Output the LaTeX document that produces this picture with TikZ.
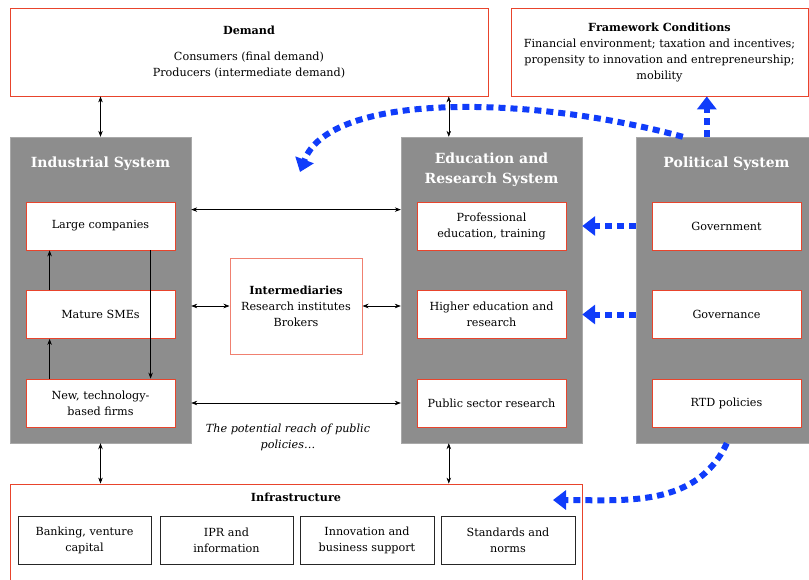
\documentclass[tikz,border=0pt]{standalone}
\usepackage{fontspec}
\setmainfont{DejaVu Serif}
\usetikzlibrary{arrows.meta,calc}
\definecolor{sysgray}{RGB}{141,141,141}
\definecolor{boxred}{RGB}{232,68,44}
\definecolor{boxpink}{RGB}{240,128,112}
\definecolor{polblue}{RGB}{16,60,250}
\tikzset{
  outerbox/.style={draw=boxred, line width=0.8pt, align=center, inner sep=0pt},
  sysbox/.style={fill=sysgray, draw=sysgray!75!white, minimum width=181pt, minimum height=306pt, inner sep=0pt},
  systitle/.style={text=white, font=\fontsize{14}{20}\selectfont\bfseries, align=center},
  itembox/.style={draw=boxred, fill=white, line width=0.8pt, minimum width=149pt, minimum height=48pt, align=center, inner sep=0pt},
  infbox/.style={draw=black!85, line width=0.8pt, minimum height=48pt, align=center, inner sep=0pt},
  link/.style={{Stealth[length=6pt,width=4.5pt]}-{Stealth[length=6pt,width=4.5pt]}, line width=0.6pt},
  upflow/.style={-{Stealth[length=6pt,width=4.5pt]}, line width=0.6pt},
  policy/.style={draw=polblue, line width=6pt, dash pattern=on 7pt off 5pt, -{Triangle[length=13pt,width=19pt]}}
}
\begin{document}
\begin{tikzpicture}[x=1pt, y=-1pt, every node/.style={font=\fontsize{11.2}{16}\selectfont}]
\useasboundingbox (0,0) rectangle (809,579);

% top row
\node[outerbox, minimum width=478pt, minimum height=88pt] (demand) at (249,52)
  {\textbf{Demand}\\[10pt]Consumers (final demand)\\Producers (intermediate demand)};
\node[outerbox, minimum width=297pt, minimum height=88pt] (framework) at (659.5,52)
  {\textbf{Framework Conditions}\\Financial environment; taxation and incentives;\\propensity to innovation and entrepreneurship;\\mobility};

% the three systems
\node[sysbox] (industrial) at (100.5,290) {};
\node[systitle] (industrialtitle) at (100.5,164) {Industrial System};
\node[sysbox] (education) at (491.5,290) {};
\node[systitle] (educationtitle) at (491.5,170) {Education and\\Research System};
\node[sysbox] (political) at (726.5,290) {};
\node[systitle] (politicaltitle) at (726.5,164) {Political System};

\node[itembox] (large) at (100.5,226) {Large companies};
\node[itembox] (mature) at (100.5,314.5) {Mature SMEs};
\node[itembox] (newfirms) at (100.5,403) {New, technology-\\based firms};
\node[itembox] (profedu) at (491.5,226) {Professional\\education, training};
\node[itembox] (highedu) at (491.5,314.5) {Higher education and\\research};
\node[itembox] (pubres) at (491.5,403) {Public sector research};
\node[itembox] (govt) at (726.5,226) {Government};
\node[itembox] (governance) at (726.5,314.5) {Governance};
\node[itembox] (rtd) at (726.5,403) {RTD policies};

\node[draw=boxpink, line width=1pt, minimum width=132pt, minimum height=96pt, align=center, inner sep=0pt] (intermed) at (296,306)
  {\textbf{Intermediaries}\\Research institutes\\Brokers};
\node[font=\fontsize{11.2}{16}\selectfont\itshape, align=center] (reach) at (288,437) {The potential reach of public\\policies…};

% infrastructure
\node[outerbox, minimum width=572pt, minimum height=120pt] (infra) at (296,544) {};
\node (infratitle) at (296,497) {\textbf{Infrastructure}};
\node[infbox, minimum width=133pt] (bank) at (84.5,540) {Banking, venture\\capital};
\node[infbox, minimum width=133pt] (ipr) at (226.5,540) {IPR and\\information};
\node[infbox, minimum width=134pt] (innov) at (367,540) {Innovation and\\business support};
\node[infbox, minimum width=134pt] (standards) at (508,540) {Standards and\\norms};

% links
\coordinate (eduup) at ($(education.north west)+(48,0)$);
\coordinate (edudown) at ($(education.south west)+(48,0)$);
\coordinate (rowA) at ($(large.north)+(0,8)$);
\draw[link] (industrial.north) -- (industrial.north |- demand.south);
\draw[link] (eduup) -- (eduup |- demand.south);
\draw[link] (industrial.south) -- (industrial.south |- infra.north);
\draw[link] (edudown) -- (edudown |- infra.north);
\draw[link] (industrial.east |- rowA) -- (education.west |- rowA);
\draw[link] (industrial.east |- intermed.west) -- (intermed.west);
\draw[link] (intermed.east) -- (education.west |- intermed.east);
\draw[link] (industrial.east |- newfirms) -- (education.west |- newfirms);

% inside the industrial system
\draw[upflow] ($(mature.north west)+(24,0)$) -- ($(large.south west)+(24,0)$);
\draw[upflow] ($(newfirms.north west)+(24,0)$) -- ($(mature.south west)+(24,0)$);
\draw[upflow] ($(large.south west)+(125,0)$) -- ($(newfirms.north west)+(125,0)$);

% policy reach
\coordinate (polA) at ($(political.north west)+(47,0)$);
\coordinate (polB) at ($(political.north west)+(71,0)$);
\coordinate (polC) at ($(political.south west)+(91,0)$);
\coordinate (reachtip) at (300,172);
\coordinate (infratip) at (553,500);
\draw[policy] (polA) .. controls (530,95) and (330,92) .. (reachtip);
\draw[policy] (polB) -- (polB |- framework.south);
\draw[policy] (political.west |- govt) -- (education.east |- govt);
\draw[policy] (political.west |- governance) -- (education.east |- governance);
\draw[policy] (polC) to[out=-115, in=0] (infratip);
\end{tikzpicture}
\end{document}
